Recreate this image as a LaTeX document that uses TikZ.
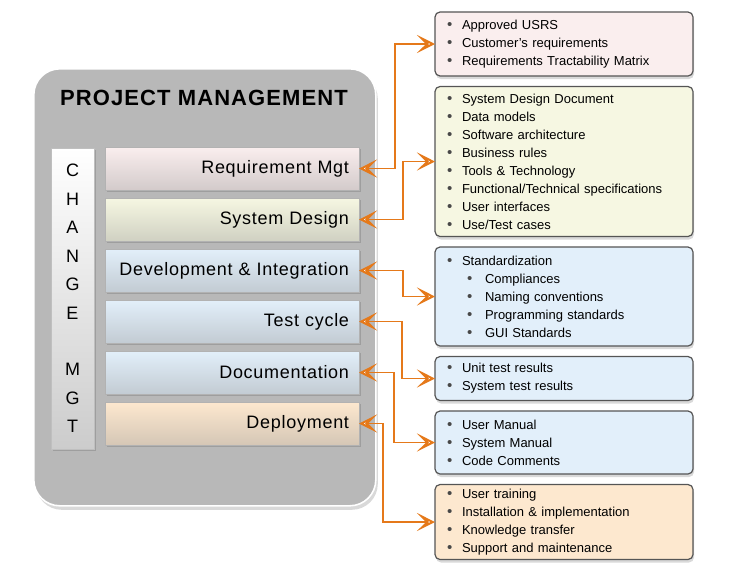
\documentclass[tikz,border=0pt]{standalone}
\usepackage{fontspec}
\setmainfont{Liberation Sans}
\usepackage{xcolor}
\usepackage{tikz}
\usetikzlibrary{arrows.meta,positioning,shadows}
\definecolor{linkorange}{HTML}{E5791A}
\definecolor{panelgray}{HTML}{B8B8B8}
\definecolor{softpink}{HTML}{FAEEEE}
\definecolor{softyellow}{HTML}{F6F7E2}
\definecolor{softblue}{HTML}{E2EFFA}
\definecolor{softpeach}{HTML}{FDE8CF}
\definecolor{boxrim}{HTML}{555555}
\definecolor{dotgray}{HTML}{484848}
\newcommand{\dotmark}{\textcolor{dotgray}{\fontsize{15}{15}\selectfont\textbullet}}
\newcommand{\bul}[1]{\makebox[15pt][l]{\dotmark}#1}
\newcommand{\subbul}[1]{\hspace*{20pt}\makebox[18pt][l]{\dotmark}#1}
\tikzset{
    chevron/.tip={Stealth[length=18pt,width=18pt,inset=9pt,fill=white,line width=2pt]},
    panel/.style={draw=white,line width=1.6pt,fill=panelgray,rounded corners=26pt,
      drop shadow={shadow xshift=2pt,shadow yshift=-4pt,opacity=0.3}},
    stage/.style={shade,top color=#1,middle color=#1,bottom color=#1!68!gray,
      draw=gray!60,line width=0.5pt,minimum height=43pt,text width=234pt,inner xsep=10pt,
      align=right,outer sep=0pt,font=\fontsize{18}{18}\selectfont\addfontfeature{LetterSpace=4},
      drop shadow={shadow xshift=1.5pt,shadow yshift=-1.5pt,opacity=0.45}},
    changecol/.style={shade,top color=white,middle color=white,bottom color=gray!40,
      draw=gray!50,line width=0.5pt,minimum height=301pt,text width=43pt,inner xsep=0pt,
      align=center,outer sep=0pt,font=\fontsize{18}{28.45}\selectfont,
      drop shadow={shadow xshift=1.5pt,shadow yshift=-1.5pt,opacity=0.45}},
    outbox/.style={fill=#1,draw=boxrim,line width=1.2pt,rounded corners=5pt,
      text width=234pt,inner xsep=12pt,align=left,outer sep=0pt,
      font=\fontsize{13}{18}\selectfont,
      drop shadow={shadow xshift=1pt,shadow yshift=-3pt,opacity=0.3}},
    link/.style={chevron-chevron,draw=linkorange,line width=1.8pt}
}
\begin{document}
\begin{tikzpicture}[x=1pt,y=-1pt]
    \useasboundingbox (0,0) rectangle (743,574);
    % left panel
    \node[panel,minimum width=342pt,minimum height=437pt,anchor=north west] (pm) at (33,68) {};
    \node[font=\fontsize{22}{22}\selectfont\bfseries\addfontfeature{LetterSpace=5}] (title) at (204,98) {PROJECT MANAGEMENT};
    \node[changecol,anchor=north west] (chg) at (51,148) {C\\H\\A\\N\\G\\E\\[28.45pt]M\\G\\T};
    \node[stage=softpink,anchor=north west] (req) at (105,147) {Requirement Mgt};
    \node[stage=softyellow,below=8pt of req] (sysd) {System Design};
    \node[stage=softblue,below=8pt of sysd] (dev) {Development \& Integration};
    \node[stage=softblue,below=8pt of dev] (test) {Test cycle};
    \node[stage=softblue,below=8pt of test] (doc) {Documentation};
    \node[stage=softpeach,below=8pt of doc] (dep) {Deployment};
    % deliverables
    \node[outbox=softpink,minimum height=64pt,anchor=north west] (out1) at (435,12)
      {\bul{Approved USRS}\\\bul{Customer's requirements}\\\bul{Requirements Tractability Matrix}};
    \node[outbox=softyellow,minimum height=150pt,below=10.5pt of out1] (out2)
      {\bul{System Design Document}\\\bul{Data models}\\\bul{Software architecture}\\\bul{Business rules}\\
       \bul{Tools \& Technology}\\\bul{Functional/Technical specifications}\\\bul{User interfaces}\\\bul{Use/Test cases}};
    \node[outbox=softblue,minimum height=99pt,below=10.5pt of out2] (out3)
      {\bul{Standardization}\\\subbul{Compliances}\\\subbul{Naming conventions}\\\subbul{Programming standards}\\\subbul{GUI Standards}};
    \node[outbox=softblue,minimum height=44pt,below=10.5pt of out3] (out4)
      {\bul{Unit test results}\\\bul{System test results}};
    \node[outbox=softblue,minimum height=63pt,below=10.5pt of out4] (out5)
      {\bul{User Manual}\\\bul{System Manual}\\\bul{Code Comments}};
    \node[outbox=softpeach,minimum height=75pt,below=10.5pt of out5] (out6)
      {\bul{User training}\\\bul{Installation \& implementation}\\\bul{Knowledge transfer}\\\bul{Support and maintenance}};
    % links
    \draw[link] (req.east) -- ++(36,0) |- (out1.west);
    \draw[link] (sysd.east) -- ++(44,0) |- (out2.west);
    \draw[link] (dev.east) -- ++(44,0) |- (out3.west);
    \draw[link] (test.east) -- ++(43,0) |- (out4.west);
    \draw[link] (doc.east) -- ++(35,0) |- (out5.west);
    \draw[link] (dep.east) -- ++(24,0) |- (out6.west);
\end{tikzpicture}
\end{document}
